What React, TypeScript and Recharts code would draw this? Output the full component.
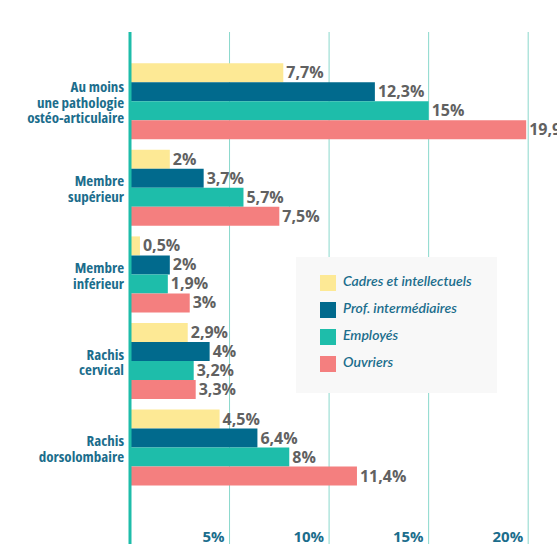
import React from "react";
import {
  BarChart,
  Bar,
  XAxis,
  YAxis,
  CartesianGrid,
  LabelList,
} from "recharts";

const categories = [
  ["Au moins", "une pathologie", "ostéo-articulaire"],
  ["Membre", "supérieur"],
  ["Membre", "inférieur"],
  ["Rachis", "cervical"],
  ["Rachis", "dorsolombaire"],
];
const cadres = [7.7, 2, 0.5, 2.9, 4.5];
const profInter = [12.3, 3.7, 2, 4, 6.4];
const employes = [15, 5.7, 1.9, 3.2, 8];
const ouvriers = [19.9, 7.5, 3, 3.3, 11.4];
const xTicks = [5, 10, 15, 20];

const series = [
  { key: "cadres", name: "Cadres et intellectuels", color: "#fde995" },
  { key: "prof", name: "Prof. intermédiaires", color: "#016a8d" },
  { key: "employes", name: "Employés", color: "#1ebdaa" },
  { key: "ouvriers", name: "Ouvriers", color: "#f47f7f" },
];

const data = categories.map((lines, i) => ({
  name: lines.join(" "),
  cadres: cadres[i],
  prof: profInter[i],
  employes: employes[i],
  ouvriers: ouvriers[i],
}));

const BLUE_TEXT = "#1b6d8c";
const SANS = "'Open Sans', sans-serif";
const fmt = (v: number) => String(v).replace(".", ",") + "%";

function CategoryTick(props: any) {
  const { x, y, index } = props;
  const lines = categories[index] || [];
  // block of lines centred on the group, slightly low
  const step = 15.6;
  const start = 6.2 - ((lines.length - 1) * step) / 2;
  return (
    <text
      x={x + 2}
      y={y}
      textAnchor="end"
      fill={BLUE_TEXT}
      fontFamily={SANS}
      fontWeight="bold"
      fontSize={15}
      style={{ fontStretch: "80%" }}
    >
      {lines.map((l, i) => (
        <tspan key={i} x={x + 2} y={y + start + i * step}>
          {l}
        </tspan>
      ))}
    </text>
  );
}

function PercentTick(props: any) {
  const { x, y, payload } = props;
  return (
    <text
      x={x - 5}
      y={y - 13}
      textAnchor="end"
      fill={BLUE_TEXT}
      fontFamily={SANS}
      fontWeight="bold"
      fontSize={15}
      style={{ fontStretch: "92%" }}
    >
      {payload.value}%
    </text>
  );
}

function ValueLabel(props: any) {
  const { x, y, width, height, value } = props;
  return (
    <text
      x={x + width + 3}
      y={y + height / 2 + 5.5}
      fill="#616161"
      fontFamily={SANS}
      fontWeight="bold"
      fontSize={16}
      style={{ fontStretch: "90%" }}
    >
      {fmt(value)}
    </text>
  );
}

function LegendBox() {
  return (
    <div
      style={{
        position: "absolute",
        left: 296,
        top: 257,
        background: "#f8f8f8",
        width: 201,
        height: 136,
        boxSizing: "border-box",
        paddingTop: 18,
        paddingLeft: 24,
      }}
    >
      {series.map((s) => (
        <div
          key={s.key}
          style={{ display: "flex", alignItems: "flex-start", height: 27 }}
        >
          <div
            style={{ width: 16, height: 16, background: s.color, marginRight: 7 }}
          />
          <span
            style={{
              color: BLUE_TEXT,
              fontFamily: "Lato, sans-serif",
              fontStyle: "italic",
              fontWeight: 600,
              fontSize: 14,
              lineHeight: "16px",
              marginTop: -2,
            }}
          >
            {s.name}
          </span>
        </div>
      ))}
    </div>
  );
}

export default function App() {
  return (
    <div
      style={{
        position: "absolute",
        left: 0,
        top: 0,
        width: 557,
        height: 544,
        overflow: "hidden",
        background: "#fff",
      }}
    >
      <BarChart
        width={580}
        height={548}
        data={data}
        layout="vertical"
        margin={{ top: 32, right: 12, left: 0, bottom: 0 }}
        barGap={0}
        barCategoryGap="6%"
      >
        <CartesianGrid horizontal={false} stroke="#8ad8cc" />
        <XAxis
          type="number"
          domain={[0, 22]}
          ticks={xTicks}
          axisLine={false}
          tickLine={false}
          height={1}
          tick={<PercentTick />}
        />
        <YAxis
          type="category"
          dataKey="name"
          width={130}
          axisLine={{ stroke: "#1ebdaa", strokeWidth: 3 }}
          tickLine={false}
          padding={{ top: 26, bottom: 56 }}
          tick={<CategoryTick />}
          interval={0}
        />
        {series.map((s) => (
          <Bar
            key={s.key}
            dataKey={s.key}
            name={s.name}
            fill={s.color}
            isAnimationActive={false}
          >
            <LabelList dataKey={s.key} content={<ValueLabel />} />
          </Bar>
        ))}
      </BarChart>
      <LegendBox />
    </div>
  );
}
